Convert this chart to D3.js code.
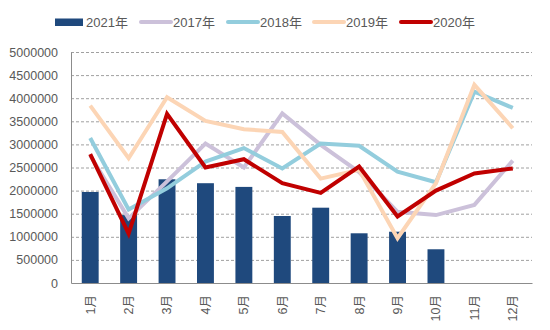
<!DOCTYPE html>
<html>
<head>
<meta charset="utf-8">
<script src="https://cdn.jsdelivr.net/npm/d3@7"></script>
<style>
  body { margin: 0; background: #fff; }
  text { font-family: "Liberation Sans", "Noto Sans CJK SC", sans-serif; fill: #595959; }
</style>
</head>
<body>
<div id="chart"></div>
<script>
// monthly values
var months = ["1月","2月","3月","4月","5月","6月","7月","8月","9月","10月","11月","12月"];
var y2021 = [1970000,1470000,2245000,2160000,2080000,1450000,1630000,1076000,1110000,730000];
var y2017 = [2760000,1400000,2200000,3020000,2500000,3670000,2990000,2400000,1540000,1470000,1690000,2650000];
var y2018 = [3140000,1590000,2050000,2630000,2920000,2480000,3020000,2970000,2410000,2180000,4140000,3790000];
var y2019 = [3840000,2700000,4020000,3510000,3330000,3270000,2260000,2450000,970000,2160000,4290000,3350000];
var y2020 = [2790000,1070000,3660000,2500000,2680000,2160000,1950000,2520000,1440000,2000000,2370000,2480000];
var yTicks = [0,500000,1000000,1500000,2000000,2500000,3000000,3500000,4000000,4500000,5000000];

var lines = [
  {name: "2017年", values: y2017, color: "#ccc1da"},
  {name: "2018年", values: y2018, color: "#93cddd"},
  {name: "2019年", values: y2019, color: "#fcd5b5"},
  {name: "2020年", values: y2020, color: "#c00000"}
];
var barColor = "#1f497d";

var width = 550, height = 330;
var margin = {top: 52, right: 18, bottom: 47, left: 71};

var svg = d3.select("#chart").append("svg")
  .attr("width", width)
  .attr("height", height);

var x = d3.scaleBand()
  .domain(months)
  .range([margin.left, width - margin.right])
  .paddingInner(0.56)
  .paddingOuter(0.28);

var y = d3.scaleLinear()
  .domain([0, 5000000])
  .range([height - margin.bottom, margin.top]);

// dashed gridlines
svg.append("g")
  .selectAll("line")
  .data(yTicks.filter(function(d){ return d > 0; }))
  .join("line")
  .attr("x1", margin.left)
  .attr("x2", width - margin.right)
  .attr("y1", function(d){ return y(d) + 0.5; })
  .attr("y2", function(d){ return y(d) + 0.5; })
  .attr("stroke", "#a0a0a0")
  .attr("stroke-width", 1)
  .attr("stroke-dasharray", "3,2");

// y axis labels
var yAxis = svg.append("g")
  .attr("transform", "translate(" + margin.left + ",0)")
  .call(d3.axisLeft(y).tickValues(yTicks).tickFormat(d3.format("d")).tickSize(0).tickPadding(13));
yAxis.select(".domain").attr("stroke", "#8c8c8c");
yAxis.selectAll("text")
  .style("font-size", "12.5px")
  .attr("fill", "#595959");

// bars
svg.append("g")
  .selectAll("rect")
  .data(y2021)
  .join("rect")
  .attr("x", function(d, i){ return x(months[i]); })
  .attr("width", x.bandwidth())
  .attr("y", function(d){ return y(d); })
  .attr("height", function(d){ return y(0) - y(d); })
  .attr("fill", barColor);

// x axis
var xAxis = svg.append("g")
  .attr("transform", "translate(0," + (height - margin.bottom) + ")")
  .call(d3.axisBottom(x).tickSize(0).tickSizeOuter(0).tickPadding(0));
xAxis.select(".domain").attr("stroke", "#8c8c8c");
xAxis.selectAll("text")
  .style("font-size", "12.5px")
  .attr("fill", "#595959")
  .attr("text-anchor", "end")
  .attr("dy", "0.35em")
  .attr("transform", "translate(0,12) rotate(-90)")
  .attr("y", 0)
  .attr("x", 0);

// year lines
var line = d3.line()
  .x(function(d, i){ return x(months[i]) + x.bandwidth() / 2; })
  .y(function(d){ return y(d); });

svg.append("g")
  .selectAll("path")
  .data(lines)
  .join("path")
  .attr("d", function(d){ return line(d.values); })
  .attr("fill", "none")
  .attr("stroke", function(d){ return d.color; })
  .attr("stroke-width", 4)
  .attr("stroke-linejoin", "miter");

// legend
var legend = svg.append("g");
legend.append("rect")
  .attr("x", 55).attr("y", 18.5)
  .attr("width", 28).attr("height", 7.5)
  .attr("fill", barColor);
legend.append("text")
  .attr("x", 86).attr("y", 22.5)
  .attr("dy", "0.35em")
  .style("font-size", "13px")
  .text("2021年");

var legendX = [141, 228, 314, 401];
lines.forEach(function(s, i){
  legend.append("line")
    .attr("x1", legendX[i]).attr("x2", legendX[i] + 30)
    .attr("y1", 22).attr("y2", 22)
    .attr("stroke", s.color)
    .attr("stroke-width", 4)
    .attr("stroke-linecap", "round");
  legend.append("text")
    .attr("x", legendX[i] + 32).attr("y", 22.5)
    .attr("dy", "0.35em")
    .style("font-size", "13px")
    .text(s.name);
});
</script>
</body>
</html>
